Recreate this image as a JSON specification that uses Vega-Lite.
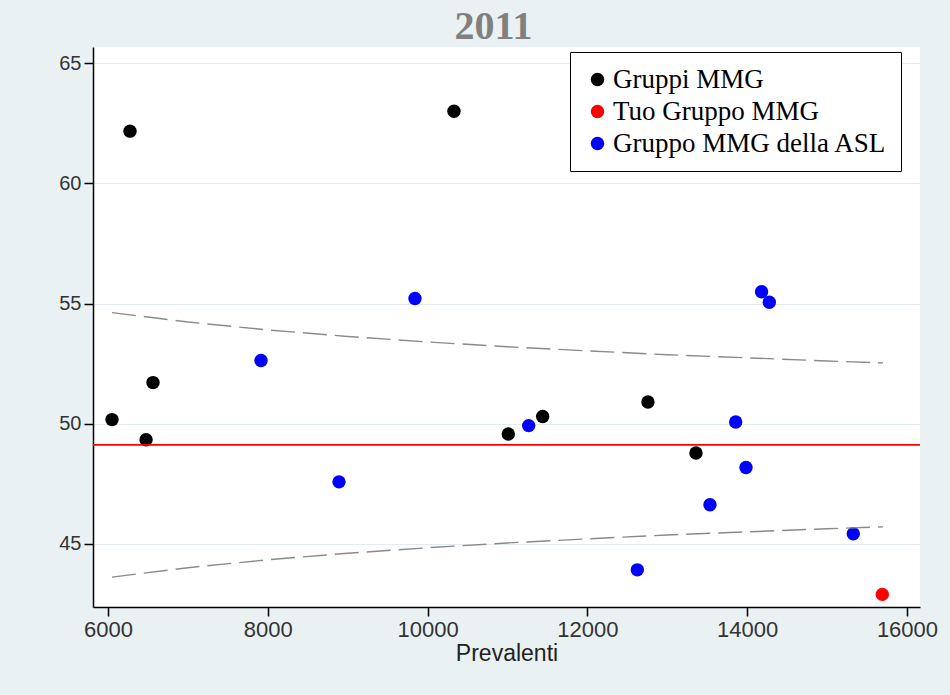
{
  "$schema": "https://vega.github.io/schema/vega-lite/v6.json",
  "autosize": {"type": "none"},
  "width": 827,
  "height": 560,
  "padding": {"left": 93, "top": 47, "right": 30, "bottom": 88},
  "background": "#eaf1f3",
  "title": {"text": "2011", "font": "Liberation Serif", "fontSize": 40, "fontWeight": "bold", "color": "#808080", "offset": 0, "dx": -13},
  "config": {
    "view": {"fill": "white", "stroke": null},
    "axis": {"labelFont": "Liberation Sans", "labelFontSize": 20, "labelColor": "#333333", "titleFont": "Liberation Sans", "titleFontSize": 23, "titleFontWeight": "normal", "titleColor": "#222222", "domainColor": "black", "domainWidth": 1.5, "tickColor": "black", "tickWidth": 1.5, "tickSize": 9, "labelPadding": 3}
  },
  "datasets": {
    "pts": [
      {"x": 6050, "y": 50.17, "g": "Gruppi MMG"},
      {"x": 6275, "y": 62.17, "g": "Gruppi MMG"},
      {"x": 6476, "y": 49.33, "g": "Gruppi MMG"},
      {"x": 6563, "y": 51.71, "g": "Gruppi MMG"},
      {"x": 10330, "y": 63.0, "g": "Gruppi MMG"},
      {"x": 11010, "y": 49.57, "g": "Gruppi MMG"},
      {"x": 11440, "y": 50.3, "g": "Gruppi MMG"},
      {"x": 12758, "y": 50.9, "g": "Gruppi MMG"},
      {"x": 13359, "y": 48.78, "g": "Gruppi MMG"},
      {"x": 7915, "y": 52.63, "g": "Gruppo MMG della ASL"},
      {"x": 8891, "y": 47.58, "g": "Gruppo MMG della ASL"},
      {"x": 9842, "y": 55.21, "g": "Gruppo MMG della ASL"},
      {"x": 11265, "y": 49.92, "g": "Gruppo MMG della ASL"},
      {"x": 12625, "y": 43.92, "g": "Gruppo MMG della ASL"},
      {"x": 13534, "y": 46.63, "g": "Gruppo MMG della ASL"},
      {"x": 13856, "y": 50.07, "g": "Gruppo MMG della ASL"},
      {"x": 13985, "y": 48.18, "g": "Gruppo MMG della ASL"},
      {"x": 14180, "y": 55.49, "g": "Gruppo MMG della ASL"},
      {"x": 14277, "y": 55.05, "g": "Gruppo MMG della ASL"},
      {"x": 15328, "y": 45.42, "g": "Gruppo MMG della ASL"},
      {"x": 15691, "y": 42.9, "g": "Tuo Gruppo MMG"}
    ],
    "bands": [
      {"x": 6050, "y": 54.62, "band": "upper"},
      {"x": 7000, "y": 54.23, "band": "upper"},
      {"x": 8000, "y": 53.9, "band": "upper"},
      {"x": 9000, "y": 53.63, "band": "upper"},
      {"x": 10000, "y": 53.4, "band": "upper"},
      {"x": 11000, "y": 53.2, "band": "upper"},
      {"x": 12000, "y": 53.03, "band": "upper"},
      {"x": 13000, "y": 52.87, "band": "upper"},
      {"x": 14000, "y": 52.74, "band": "upper"},
      {"x": 15000, "y": 52.61, "band": "upper"},
      {"x": 15700, "y": 52.53, "band": "upper"},
      {"x": 6050, "y": 43.62, "band": "lower"},
      {"x": 7000, "y": 44.01, "band": "lower"},
      {"x": 8000, "y": 44.34, "band": "lower"},
      {"x": 9000, "y": 44.61, "band": "lower"},
      {"x": 10000, "y": 44.84, "band": "lower"},
      {"x": 11000, "y": 45.04, "band": "lower"},
      {"x": 12000, "y": 45.21, "band": "lower"},
      {"x": 13000, "y": 45.37, "band": "lower"},
      {"x": 14000, "y": 45.5, "band": "lower"},
      {"x": 15000, "y": 45.63, "band": "lower"},
      {"x": 15700, "y": 45.71, "band": "lower"}
    ],
    "mean": [{"y": 49.12}]
  },
  "layer": [
    {
      "data": {"name": "pts"},
      "mark": {"type": "circle", "size": 180, "opacity": 1},
      "encoding": {
        "x": {"field": "x", "type": "quantitative", "title": "Prevalenti",
              "scale": {"domain": [5812, 16163], "nice": false, "zero": false},
              "axis": {"values": [6000, 8000, 10000, 12000, 14000, 16000], "grid": false, "format": "d", "titlePadding": 2, "labelFontSize": 22}},
        "y": {"field": "y", "type": "quantitative", "title": null,
              "scale": {"domain": [42.375, 65.67], "nice": false, "zero": false},
              "axis": {"values": [45, 50, 55, 60, 65], "grid": true, "gridColor": "#e3edef", "gridWidth": 1.2}},
        "color": {"field": "g", "type": "nominal",
                  "scale": {"domain": ["Gruppi MMG", "Tuo Gruppo MMG", "Gruppo MMG della ASL"], "range": ["black", "red", "blue"]},
                  "legend": {"title": null, "orient": "none", "legendX": 477, "legendY": 5, "symbolType": "circle", "symbolSize": 180, "symbolStrokeWidth": 0, "symbolOpacity": 1,
                             "labelFont": "Liberation Serif", "labelFontSize": 27, "labelColor": "black", "labelOffset": 2, "labelLimit": 500,
                             "strokeColor": "black", "fillColor": "white", "padding": 14, "rowPadding": 4, "labelExpr": "datum.label + '\u2003\u2003'"}}
      }
    },
    {
      "data": {"name": "bands"},
      "mark": {"type": "line", "color": "#8a8a8a", "strokeWidth": 1.4, "strokeDash": [24, 8]},
      "encoding": {
        "x": {"field": "x", "type": "quantitative"},
        "y": {"field": "y", "type": "quantitative"},
        "detail": {"field": "band"}
      }
    },
    {
      "data": {"name": "mean"},
      "mark": {"type": "rule", "color": "red", "strokeWidth": 1.6},
      "encoding": {
        "y": {"field": "y", "type": "quantitative"}
      }
    }
  ]
}
